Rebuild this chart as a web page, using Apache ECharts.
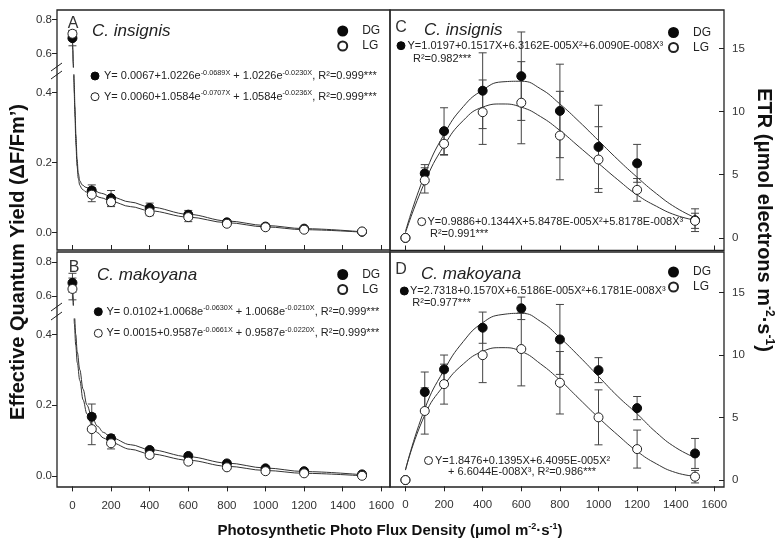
<!DOCTYPE html>
<html><head><meta charset="utf-8">
<script src="https://cdn.jsdelivr.net/npm/echarts@6/dist/echarts.min.js"></script>
<style>html,body{margin:0;padding:0;background:#fff}#c{width:780px;height:548px}</style>
</head><body><div id="c"></div>
<script>
// ---------- data ----------
const ppfd = [0, 100, 200, 400, 600, 800, 1000, 1200, 1500];
const xTicks = [0, 200, 400, 600, 800, 1000, 1200, 1400, 1600];
const yieldTicksUpper = [0.6, 0.8];
const yieldTicksLower = [0.0, 0.2, 0.4];
const etrTicks = [0, 5, 10, 15];

// A: C. insignis, effective quantum yield
const yieldA_DG = [0.69, 0.120, 0.098, 0.070, 0.051, 0.029, 0.017, 0.011, 0.002];
const yieldA_DG_err = [0.045, 0.016, 0.022, 0.014, 0.012, 0.006, 0.004, 0.004, 0.002];
const yieldA_LG = [0.716, 0.108, 0.087, 0.058, 0.044, 0.025, 0.015, 0.008, 0.003];
const yieldA_LG_err = [0.02, 0.02, 0.013, 0.010, 0.013, 0.006, 0.004, 0.003, 0.002];
const fitX_A = [0, 2, 4, 6, 9, 13, 18, 24, 30, 38, 50, 70, 100, 150, 200, 300, 400, 600, 800, 1000, 1200, 1500];
const fitA_DG = [0.70, 0.62, 0.55, 0.49, 0.43, 0.36, 0.28, 0.21, 0.17, 0.148, 0.136, 0.129, 0.123, 0.112, 0.102, 0.087, 0.073, 0.052, 0.033, 0.020, 0.011, 0.002];
const fitA_LG = [0.71, 0.62, 0.54, 0.47, 0.40, 0.33, 0.25, 0.19, 0.155, 0.135, 0.124, 0.116, 0.110, 0.099, 0.089, 0.074, 0.062, 0.044, 0.028, 0.016, 0.008, 0.001];

// B: C. makoyana, effective quantum yield
const yieldB_DG = [0.676, 0.167, 0.106, 0.073, 0.056, 0.035, 0.021, 0.013, 0.004];
const yieldB_DG_err = [0.056, 0.036, 0.010, 0.006, 0.005, 0.004, 0.004, 0.003, 0.003];
const yieldB_LG = [0.64, 0.132, 0.092, 0.059, 0.040, 0.024, 0.013, 0.007, 0.000];
const yieldB_LG_err = [0.064, 0.044, 0.016, 0.008, 0.006, 0.004, 0.003, 0.003, 0.002];
const fitX_B = [0, 3, 6, 10, 17, 25, 38, 55, 75, 100, 130, 160, 200, 300, 400, 600, 800, 1000, 1200, 1500];
const fitB_DG = [0.68, 0.60, 0.52, 0.46, 0.40, 0.35, 0.30, 0.245, 0.20, 0.167, 0.14, 0.123, 0.108, 0.088, 0.074, 0.054, 0.036, 0.022, 0.012, 0.003];
const fitB_LG = [0.66, 0.57, 0.50, 0.43, 0.37, 0.32, 0.27, 0.215, 0.175, 0.145, 0.122, 0.107, 0.094, 0.075, 0.062, 0.044, 0.027, 0.015, 0.007, 0.000];

// C: C. insignis, ETR
const etrC_DG = [0, 5.1, 8.45, 11.65, 12.8, 10.05, 7.2, 5.9, 1.4];
const etrC_DG_err = [0, 0.7, 1.85, 3.0, 3.5, 3.7, 3.3, 1.5, 0.9];
const etrC_LG = [0, 4.55, 7.45, 9.95, 10.7, 8.1, 6.2, 3.8, 1.35];
const etrC_LG_err = [0, 1.0, 0.9, 2.55, 3.25, 3.5, 2.6, 0.9, 0.6];
const fitX_etr = [0, 100, 200, 300, 400, 500, 600, 700, 800, 900, 1000, 1100, 1200, 1300, 1400, 1500];
const fitC_DG = [0.5, 5.0, 8.2, 10.4, 11.7, 12.35, 12.4, 11.8, 10.6, 9.2, 7.7, 6.2, 4.8, 3.5, 2.4, 1.6];
const fitC_LG = [0.4, 4.4, 7.3, 9.3, 10.35, 10.6, 10.35, 9.6, 8.5, 7.2, 5.9, 4.6, 3.4, 2.5, 1.8, 1.4];

// D: C. makoyana, ETR
const etrD_DG = [0, 7.05, 8.86, 12.2, 13.75, 11.26, 8.8, 5.76, 2.13];
const etrD_DG_err = [0, 1.6, 1.15, 1.25, 0.9, 2.8, 1.0, 0.93, 1.2];
const etrD_LG = [0, 5.53, 7.68, 10.0, 10.49, 7.79, 5.02, 2.48, 0.27];
const etrD_LG_err = [0, 1.85, 1.6, 2.2, 2.95, 2.5, 2.2, 1.52, 0.5];
const fitD_DG = [0.8, 5.7, 8.8, 11.1, 12.6, 13.25, 13.35, 12.7, 11.4, 9.9, 8.3, 6.7, 5.3, 3.8, 2.6, 1.8];
const fitD_LG = [0.8, 5.2, 7.6, 9.3, 10.3, 10.6, 10.3, 9.3, 8.0, 6.5, 5.0, 3.6, 2.3, 1.3, 0.6, 0.3];

// ---------- helpers ----------
const FONT = 'Arial, "Liberation Sans", Helvetica, sans-serif';
const INK = '#222';
const pairs = (xs, ys) => xs.map((x, i) => [x, ys[i]]);
const triples = (xs, ys, es) => xs.map((x, i) => [x, ys[i], es[i]]);
const isUpper = (p) => p[0] === 0;   // x = 0 points sit above the axis break
const isLower = (p) => p[0] !== 0;

const DG_STYLE = { color: '#0a0a0a', borderColor: '#0a0a0a', borderWidth: 1, opacity: 1 };
const LG_STYLE = { color: '#fff', borderColor: '#222', borderWidth: 1, opacity: 1 };

function scatter(name, gi, data, style, z) {
  return { type: 'scatter', name, xAxisIndex: gi, yAxisIndex: gi, data, symbol: 'circle', symbolSize: 9,
    itemStyle: style, z, clip: true, silent: true, emphasis: { disabled: true } };
}
function fit(name, gi, data, mono) {
  const s = { type: 'line', name, xAxisIndex: gi, yAxisIndex: gi, data, showSymbol: false, symbol: 'none',
    smooth: mono ? 0.35 : 0.5, lineStyle: { color: '#333', width: 1 }, z: 1, clip: true, silent: true,
    emphasis: { disabled: true } };
  if (mono) s.smoothMonotone = 'x';
  return s;
}
function renderErr(params, api) {
  const x = api.value(0), y = api.value(1), e = api.value(2);
  if (!e) return null;
  const t = api.coord([x, y + e]), b = api.coord([x, y - e]);
  const st = { stroke: '#444', lineWidth: 1, fill: null };
  return { type: 'group', children: [
    { type: 'line', shape: { x1: t[0], y1: t[1], x2: b[0], y2: b[1] }, style: st },
    { type: 'line', shape: { x1: t[0] - 4, y1: t[1], x2: t[0] + 4, y2: t[1] }, style: st },
    { type: 'line', shape: { x1: b[0] - 4, y1: b[1], x2: b[0] + 4, y2: b[1] }, style: st }
  ] };
}
function errs(gi, data) {
  return { type: 'custom', xAxisIndex: gi, yAxisIndex: gi, data, encode: { x: 0, y: 1 }, clip: true, z: 2,
    silent: true, renderItem: renderErr };
}

const tickLine = { color: INK, width: 1 };
const noLine = { show: false, onZero: false };
function xAx(gi, extra) {
  return Object.assign({ type: 'value', gridIndex: gi, min: -80, max: 1650, splitLine: { show: false },
    axisLine: noLine, axisTick: { show: false }, axisLabel: { show: false } }, extra || {});
}
function yAx(gi, min, max, extra) {
  return Object.assign({ type: 'value', gridIndex: gi, min, max, splitLine: { show: false },
    axisLine: noLine, axisTick: { show: false }, axisLabel: { show: false } }, extra || {});
}
const xTickIn = { show: true, inside: true, length: 5, customValues: xTicks, lineStyle: tickLine };
const xTickOut = { show: true, inside: false, length: 5, customValues: xTicks, lineStyle: tickLine };
const xLabel = { show: true, customValues: xTicks, margin: 13, color: '#333', fontSize: 11.5, fontFamily: FONT,
  formatter: (v) => String(Math.round(+v)) };
const yYield = (vals) => ({
  axisTick: { show: true, inside: false, length: 5, customValues: vals, lineStyle: tickLine },
  axisLabel: { show: true, customValues: vals, margin: 5, color: '#333', fontSize: 11.5, fontFamily: FONT,
    formatter: (v) => (+v).toFixed(1) }
});
const yEtr = {
  position: 'right',
  axisTick: { show: true, inside: true, length: 5, customValues: etrTicks, lineStyle: tickLine },
  axisLabel: { show: true, customValues: etrTicks, margin: 8, color: '#333', fontSize: 11.5, fontFamily: FONT,
    formatter: (v) => String(Math.round(+v)) }
};

function leg(left, top) {
  return { left, top, orient: 'vertical', icon: 'circle', itemWidth: 9, itemHeight: 9, itemGap: 3, padding: 0,
    data: ['DG', 'LG'], selectedMode: false, formatter: (n) => '   ' + n,
    textStyle: { fontSize: 12, color: INK, fontFamily: FONT } };
}

// text helpers (graphic)
const M = { fontSize: 11, fontFamily: FONT, fill: INK, lineHeight: 14 };
const S = { fontSize: 7.3, fontFamily: FONT, fill: INK, lineHeight: 8, verticalAlign: 'top' };
function rtext(x, y, text, rich, extra) {
  return Object.assign({ type: 'text', x, y, z: 100, silent: true,
    style: { text, rich, align: 'left', verticalAlign: 'middle', textAlign: 'left', textVerticalAlign: 'middle' } }, extra || {});
}
function ptext(x, y, text, font, fill, align) {
  return { type: 'text', x, y, z: 100, silent: true,
    style: { text, font, fill: fill || INK, align: align || 'left', verticalAlign: 'middle',
      textAlign: align || 'left', textVerticalAlign: 'middle' } };
}
function dot(cx, cy, filled) {
  return { type: 'circle', z: 100, silent: true, shape: { cx, cy, r: 4 },
    style: filled ? { fill: '#0a0a0a', stroke: '#0a0a0a', lineWidth: 1 } : { fill: '#fff', stroke: '#222', lineWidth: 1 } };
}
function frame(x, y, w, h) {
  return { type: 'rect', z: 100, silent: true, shape: { x, y, width: w, height: h },
    style: { fill: null, stroke: INK, lineWidth: 1.3 } };
}
function seg(x1, y1, x2, y2) {
  return { type: 'line', z: 100, silent: true, shape: { x1, y1, x2, y2 }, style: { stroke: INK, lineWidth: 1 } };
}
const expEq = (a, b, k1, k2, r) =>
  `{m|Y= ${a}+${b}e}{s|-${k1}X}{m| + ${b}e}{s|-${k2}X}{m|, R²=${r}***}`;
const RICH = { m: M, s: S };
const titleRich = (size) => ({
  b: { fontSize: size, fontWeight: 'bold', fontFamily: FONT, fill: '#111', lineHeight: size + 3 },
  s: { fontSize: Math.round(size * 0.62), fontWeight: 'bold', fontFamily: FONT, fill: '#111',
    lineHeight: Math.round(size * 0.62), verticalAlign: 'top' }
});

// ---------- option ----------
const option = {
  animation: false,
  backgroundColor: '#fff',
  grid: [
    { left: 57, top: 10, width: 334, height: 57 },      // A upper
    { left: 57, top: 75, width: 334, height: 175 },     // A lower
    { left: 57, top: 252.4, width: 334, height: 52.7 }, // B upper
    { left: 57, top: 319, width: 334, height: 167.4 },  // B lower
    { left: 390, top: 10.5, width: 334, height: 240 },  // C
    { left: 390, top: 251.5, width: 334, height: 234.8 }// D
  ],
  xAxis: [
    xAx(0), xAx(1, { axisTick: xTickIn }),
    xAx(2), xAx(3, { axisTick: xTickOut, axisLabel: xLabel }),
    xAx(4, { axisTick: xTickIn }), xAx(5, { axisTick: xTickOut, axisLabel: xLabel })
  ],
  yAxis: [
    yAx(0, 0.52, 0.856, yYield(yieldTicksUpper)),
    yAx(1, -0.05, 0.45, yYield(yieldTicksLower)),
    yAx(2, 0.545, 0.855, yYield(yieldTicksUpper)),
    yAx(3, -0.03, 0.4435, yYield(yieldTicksLower)),
    yAx(4, -1, 18, yEtr),
    yAx(5, -0.5, 18.3, yEtr)
  ],
  legend: [leg(337.2, 25), leg(337.2, 268.5), leg(668, 26.5), leg(668, 266)],
  series: [
    // A
    fit('DG fit', 0, pairs(fitX_A, fitA_DG), true), fit('LG fit', 0, pairs(fitX_A, fitA_LG), true),
    fit('DG fit', 1, pairs(fitX_A, fitA_DG), true), fit('LG fit', 1, pairs(fitX_A, fitA_LG), true),
    errs(0, triples(ppfd, yieldA_DG, yieldA_DG_err).filter(isUpper)),
    errs(0, triples(ppfd, yieldA_LG, yieldA_LG_err).filter(isUpper)),
    errs(1, triples(ppfd, yieldA_DG, yieldA_DG_err).filter(isLower)),
    errs(1, triples(ppfd, yieldA_LG, yieldA_LG_err).filter(isLower)),
    scatter('DG', 0, pairs(ppfd, yieldA_DG).filter(isUpper), DG_STYLE, 3),
    scatter('LG', 0, pairs(ppfd, yieldA_LG).filter(isUpper), LG_STYLE, 4),
    scatter('DG', 1, pairs(ppfd, yieldA_DG).filter(isLower), DG_STYLE, 3),
    scatter('LG', 1, pairs(ppfd, yieldA_LG).filter(isLower), LG_STYLE, 4),
    // B
    fit('DG fit', 2, pairs(fitX_B, fitB_DG), true), fit('LG fit', 2, pairs(fitX_B, fitB_LG), true),
    fit('DG fit', 3, pairs(fitX_B, fitB_DG), true), fit('LG fit', 3, pairs(fitX_B, fitB_LG), true),
    errs(2, triples(ppfd, yieldB_DG, yieldB_DG_err).filter(isUpper)),
    errs(2, triples(ppfd, yieldB_LG, yieldB_LG_err).filter(isUpper)),
    errs(3, triples(ppfd, yieldB_DG, yieldB_DG_err).filter(isLower)),
    errs(3, triples(ppfd, yieldB_LG, yieldB_LG_err).filter(isLower)),
    scatter('DG', 2, pairs(ppfd, yieldB_DG).filter(isUpper), DG_STYLE, 3),
    scatter('LG', 2, pairs(ppfd, yieldB_LG).filter(isUpper), LG_STYLE, 4),
    scatter('DG', 3, pairs(ppfd, yieldB_DG).filter(isLower), DG_STYLE, 3),
    scatter('LG', 3, pairs(ppfd, yieldB_LG).filter(isLower), LG_STYLE, 4),
    // C
    fit('DG fit', 4, pairs(fitX_etr, fitC_DG)), fit('LG fit', 4, pairs(fitX_etr, fitC_LG)),
    errs(4, triples(ppfd, etrC_DG, etrC_DG_err)), errs(4, triples(ppfd, etrC_LG, etrC_LG_err)),
    scatter('DG', 4, pairs(ppfd, etrC_DG), DG_STYLE, 3), scatter('LG', 4, pairs(ppfd, etrC_LG), LG_STYLE, 4),
    // D
    fit('DG fit', 5, pairs(fitX_etr, fitD_DG)), fit('LG fit', 5, pairs(fitX_etr, fitD_LG)),
    errs(5, triples(ppfd, etrD_DG, etrD_DG_err)), errs(5, triples(ppfd, etrD_LG, etrD_LG_err)),
    scatter('DG', 5, pairs(ppfd, etrD_DG), DG_STYLE, 3), scatter('LG', 5, pairs(ppfd, etrD_LG), LG_STYLE, 4)
  ],
  graphic: { elements: [
    frame(57, 10, 333, 240), frame(57, 252, 333, 235), frame(390, 10, 334, 240.5), frame(390, 252, 334, 235),
    // axis break marks
    seg(51, 71, 62, 63), seg(51, 79, 62, 71),
    seg(51, 311, 62, 303), seg(51, 320, 62, 312),
    // panel letters
    ptext(73, 24, 'A', '16px ' + FONT, '#333', 'center'),
    ptext(74, 268, 'B', '16px ' + FONT, '#333', 'center'),
    ptext(401, 28, 'C', '16px ' + FONT, '#333', 'center'),
    ptext(401, 270, 'D', '16px ' + FONT, '#333', 'center'),
    // species
    ptext(92, 31, 'C. insignis', 'italic 17px ' + FONT, INK),
    ptext(97, 275, 'C. makoyana', 'italic 17px ' + FONT, INK),
    ptext(424, 30, 'C. insignis', 'italic 17px ' + FONT, INK),
    ptext(421, 274, 'C. makoyana', 'italic 17px ' + FONT, INK),
    // equations A
    dot(95, 76, true), rtext(104, 76, expEq('0.0067', '1.0226', '0.0689', '0.0230', '0.999'), RICH),
    dot(95, 96.7, false), rtext(104, 96.7, expEq('0.0060', '1.0584', '0.0707', '0.0236', '0.999'), RICH),
    // equations B
    dot(98.3, 311.7, true), rtext(106.5, 311.7, expEq('0.0102', '1.0068', '0.0630', '0.0210', '0.999'), RICH),
    dot(98.3, 333.3, false), rtext(106.5, 333.3, expEq('0.0015', '0.9587', '0.0661', '0.0220', '0.999'), RICH),
    // equations C
    dot(401, 45.7, true), rtext(407.5, 45.7, '{m|Y=1.0197+0.1517X+6.3162E-005X²+6.0090E-008X³}', RICH),
    rtext(413, 59.3, '{m|R²=0.982***}', RICH),
    dot(421.7, 221.7, false), rtext(427.5, 221.7, '{m|Y=0.9886+0.1344X+5.8478E-005X²+5.8178E-008X³}', RICH),
    rtext(430, 234.3, '{m|R²=0.991***}', RICH),
    // equations D
    dot(404.3, 291, true), rtext(410, 291, '{m|Y=2.7318+0.1570X+6.5186E-005X²+6.1781E-008X³}', RICH),
    rtext(412.3, 303, '{m|R²=0.977***}', RICH),
    dot(428.5, 460.5, false), rtext(435, 460.5, '{m|Y=1.8476+0.1395X+6.4095E-005X²}', RICH),
    rtext(448, 471.5, '{m|+ 6.6044E-008X³, R²=0.986***}', RICH),
    // axis titles
    Object.assign(rtext(18, 262, '{b|Effective Quantum Yield (ΔF/Fm’)}', titleRich(20)), { rotation: Math.PI / 2 }),
    Object.assign(rtext(764, 220, '{b|ETR (μmol electrons m}{s|-2}{b|·s}{s|-1}{b|)}', titleRich(20)), { rotation: -Math.PI / 2 }),
    rtext(390, 531, '{b|Photosynthetic Photo Flux Density (μmol m}{s|-2}{b|·s}{s|-1}{b|)}', titleRich(15))
  ] }
};
// center-align the title texts
option.graphic.elements.slice(-3).forEach(e => { e.style.align = 'center'; e.style.textAlign = 'center'; });

const chart = echarts.init(document.getElementById('c'), null, { renderer: 'canvas' });
chart.setOption(option);
</script>
</body></html>
